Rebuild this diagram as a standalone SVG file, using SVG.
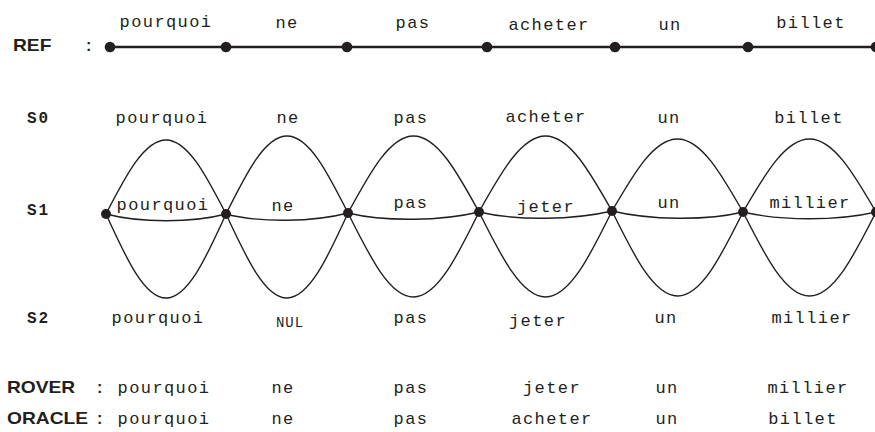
<svg xmlns="http://www.w3.org/2000/svg" width="875" height="432" viewBox="0 0 875 432">
<style>
.bg{fill:#ffffff}
.w{font-family:"Liberation Mono","Courier New",monospace;font-size:17px;letter-spacing:1.4px;fill:#231f20;text-anchor:middle}
.nul{font-size:14px;letter-spacing:1px}
.sl{font-family:"Liberation Mono","Courier New",monospace;font-size:16px;font-weight:bold;letter-spacing:2px;fill:#231f20}
.lb{font-family:"Liberation Sans",Arial,sans-serif;font-size:16px;font-weight:bold;fill:#231f20}
.col{font-family:"Liberation Sans",Arial,sans-serif;font-size:16px;font-weight:bold;fill:#231f20}
.ref{stroke:#231f20;stroke-width:2.6;fill:none}
.arc{stroke:#231f20;stroke-width:1.4;fill:none}
.dot{fill:#231f20}
</style>
<rect class="bg" x="0" y="0" width="875" height="432"/>

<g id="row-labels">
<text class="lb" transform="translate(13 51) scale(1.2 1)">REF</text>
<text class="col" x="86" y="51">:</text>
<text class="sl" x="27" y="123">S0</text>
<text class="sl" x="27" y="215">S1</text>
<text class="sl" x="27" y="323">S2</text>
<text class="lb" transform="translate(7 393) scale(1.2 1)">ROVER</text>
<text class="col" x="97" y="393">:</text>
<text class="lb" transform="translate(7 424) scale(1.2 1)">ORACLE</text>
<text class="col" x="97" y="424">:</text>
</g>

<g id="connectors">
<line class="ref" x1="110" y1="47" x2="875" y2="47"/>
<path class="arc" d="M106 214 C126 175.1 144.4 140 166 140 C187.6 140 206 175.1 226 214"/>
<path class="arc" d="M106 214 C140 223 192 223 226 214"/>
<path class="arc" d="M106 214 C126 258.1 144.4 298 166 298 C187.6 298 206 258.1 226 214"/>
<path class="arc" d="M226 214 C246.4 173 265 136 287 136 C309 136 327.6 172.6 348 213"/>
<path class="arc" d="M226 214 C260 223 314 222 348 213"/>
<path class="arc" d="M226 214 C246.4 258.1 265 298 287 298 C309 298 327.6 257.6 348 213"/>
<path class="arc" d="M348 213 C369.9 172.6 389.9 136 413.5 136 C437.1 136 457.1 172.1 479 212"/>
<path class="arc" d="M348 213 C385 222 442 221 479 212"/>
<path class="arc" d="M348 213 C369.9 257.1 389.9 297 413.5 297 C437.1 297 457.1 256.6 479 212"/>
<path class="arc" d="M479 212 C501.2 172.1 521.6 136 545.5 136 C569.4 136 589.8 171.6 612 211"/>
<path class="arc" d="M479 212 C517 221 574 220 612 211"/>
<path class="arc" d="M479 212 C501.2 256.6 521.6 297 545.5 297 C569.4 297 589.8 256.2 612 211"/>
<path class="arc" d="M612 211 C633.9 173.2 653.9 139 677.5 139 C701.1 139 721.1 173.7 743 212"/>
<path class="arc" d="M612 211 C649 220 706 221 743 212"/>
<path class="arc" d="M612 211 C633.9 255.6 653.9 296 677.5 296 C701.1 296 721.1 256.1 743 212"/>
<path class="arc" d="M743 212 C765.2 173.7 785.6 139 809.5 139 C833.4 139 853.8 173.7 876 212"/>
<path class="arc" d="M743 212 C781 221 838 221 876 212"/>
<path class="arc" d="M743 212 C765.2 256.1 785.6 296 809.5 296 C833.4 296 853.8 256.1 876 212"/>
</g>

<g id="ref-nodes">
<g id="ref0"><circle class="dot" cx="110" cy="47" r="5.3"/></g>
<g id="ref1"><circle class="dot" cx="226" cy="47" r="5.3"/></g>
<g id="ref2"><circle class="dot" cx="347" cy="47" r="5.3"/></g>
<g id="ref3"><circle class="dot" cx="487" cy="47" r="5.3"/></g>
<g id="ref4"><circle class="dot" cx="615" cy="47" r="5.3"/></g>
<g id="ref5"><circle class="dot" cx="748" cy="47" r="5.3"/></g>
<g id="ref6"><circle class="dot" cx="876" cy="47" r="5.3"/></g>
</g>

<g id="lattice-nodes">
<g id="n0"><circle class="dot" cx="106" cy="214" r="5"/></g>
<g id="n1"><circle class="dot" cx="226" cy="214" r="5"/></g>
<g id="n2"><circle class="dot" cx="348" cy="213" r="5"/></g>
<g id="n3"><circle class="dot" cx="479" cy="212" r="5"/></g>
<g id="n4"><circle class="dot" cx="612" cy="211" r="5"/></g>
<g id="n5"><circle class="dot" cx="743" cy="212" r="5"/></g>
<g id="n6"><circle class="dot" cx="876" cy="212" r="5"/></g>
</g>

<g id="ref-words">
<text class="w" x="166" y="27">pourquoi</text>
<text class="w" x="287" y="28">ne</text>
<text class="w" x="413" y="28">pas</text>
<text class="w" x="549" y="30">acheter</text>
<text class="w" x="670" y="30">un</text>
<text class="w" x="811" y="28">billet</text>
</g>

<g id="s0-words">
<text class="w" x="162" y="123">pourquoi</text>
<text class="w" x="288" y="123">ne</text>
<text class="w" x="411" y="123">pas</text>
<text class="w" x="546" y="122">acheter</text>
<text class="w" x="669" y="123">un</text>
<text class="w" x="809" y="123">billet</text>
</g>

<g id="s1-words">
<text class="w" x="163" y="210">pourquoi</text>
<text class="w" x="283" y="211">ne</text>
<text class="w" x="411" y="208">pas</text>
<text class="w" x="546" y="212">jeter</text>
<text class="w" x="669" y="208">un</text>
<text class="w" x="810" y="208">millier</text>
</g>

<g id="s2-words">
<text class="w" x="158" y="323">pourquoi</text>
<text class="w nul" x="290" y="327">NUL</text>
<text class="w" x="411" y="323">pas</text>
<text class="w" x="538" y="326">jeter</text>
<text class="w" x="666" y="323">un</text>
<text class="w" x="812" y="323">millier</text>
</g>

<g id="rover-words">
<text class="w" x="164" y="393">pourquoi</text>
<text class="w" x="283" y="393">ne</text>
<text class="w" x="411" y="393">pas</text>
<text class="w" x="552" y="393">jeter</text>
<text class="w" x="667" y="393">un</text>
<text class="w" x="808" y="393">millier</text>
</g>

<g id="oracle-words">
<text class="w" x="164" y="424">pourquoi</text>
<text class="w" x="283" y="424">ne</text>
<text class="w" x="411" y="424">pas</text>
<text class="w" x="552" y="424">acheter</text>
<text class="w" x="667" y="424">un</text>
<text class="w" x="803" y="424">billet</text>
</g>
</svg>
